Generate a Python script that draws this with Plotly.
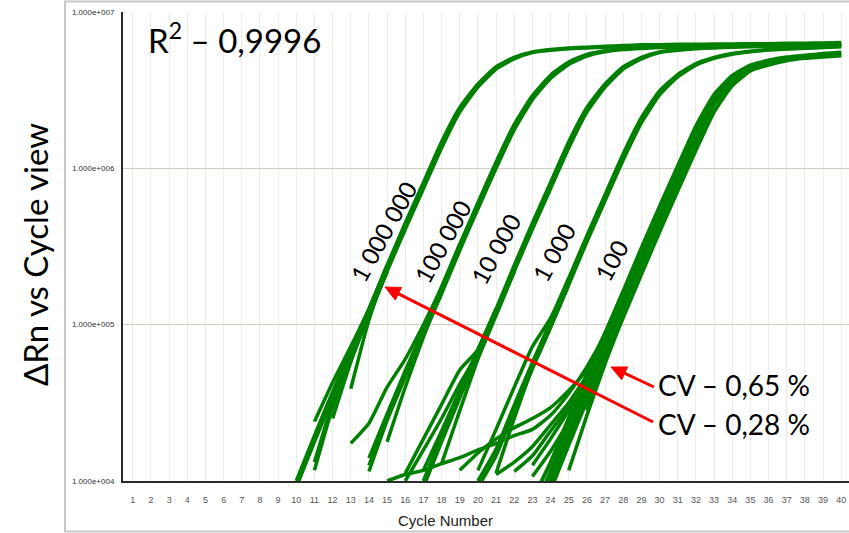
import math
import plotly.graph_objects as go

# ---------------- data (ΔRn per cycle) ----------------
# 1 000 000 copies
g1_start = 10
g1_a = [1.00e4, 1.95e4, 3.72e4, 6.92e4, 1.26e5, 2.40e5, 4.47e5, 8.13e5, 1.48e6, 2.45e6,
        3.47e6, 4.47e6, 5.13e6, 5.56e6, 5.75e6, 5.89e6, 5.96e6, 6.03e6, 6.10e6, 6.17e6,
        6.17e6, 6.21e6, 6.21e6, 6.24e6, 6.24e6, 6.27e6, 6.27e6, 6.31e6, 6.31e6, 6.34e6, 6.38e6]
g1_b = [9.12e3, 1.78e4, 3.39e4, 6.31e4, 1.15e5, 2.19e5, 4.07e5, 7.41e5, 1.35e6, 2.29e6,
        3.31e6, 4.32e6, 5.01e6, 5.50e6, 5.69e6, 5.82e6, 5.89e6, 5.96e6, 6.03e6, 6.06e6,
        6.10e6, 6.13e6, 6.13e6, 6.17e6, 6.17e6, 6.21e6, 6.21e6, 6.24e6, 6.24e6, 6.27e6, 6.27e6]
g1_rep_start = [11, 11, 11, 12, 13]
g1_reps = [[2.40e4, 4.27e4, 7.24e4, 1.26e5, 2.40e5],
           [1.17e4, 2.95e4, 6.03e4, 1.15e5, 2.19e5],
           [1.32e4, 3.16e4, 6.31e4, 1.20e5, 2.19e5],
           [2.51e4, 5.75e4, 1.15e5, 2.19e5],
           [3.89e4, 1.07e5, 2.29e5, 4.07e5]]

# 100 000 copies
g2_start = 14
g2_a = [1.40e4, 2.69e4, 5.07e4, 9.33e4, 1.74e5, 3.27e5, 6.03e5, 1.10e6, 1.91e6, 2.92e6,
        3.94e6, 4.79e6, 5.35e6, 5.65e6, 5.82e6, 5.92e6, 5.98e6, 6.04e6, 6.07e6, 6.10e6,
        6.13e6, 6.17e6, 6.17e6, 6.21e6, 6.21e6, 6.24e6, 6.24e6]
g2_b = [1.26e4, 2.45e4, 4.62e4, 8.51e4, 1.58e5, 2.99e5, 5.50e5, 1.00e6, 1.76e6, 2.75e6,
        3.76e6, 4.62e6, 5.22e6, 5.56e6, 5.75e6, 5.85e6, 5.92e6, 5.96e6, 6.00e6, 6.03e6,
        6.06e6, 6.10e6, 6.10e6, 6.13e6, 6.13e6, 6.17e6, 6.17e6]
g2_rep_start = [13, 15, 14]
g2_reps = [[1.74e4, 2.34e4, 3.98e4, 6.03e4, 1.00e5, 1.74e5, 3.27e5],
           [1.78e4, 3.98e4, 8.32e4, 1.62e5, 2.99e5],
           [1.15e4, 2.45e4, 4.90e4, 9.12e4, 1.58e5]]

# 10 000 copies
g3_start = 17
g3_a = [1.00e4, 1.95e4, 3.72e4, 6.92e4, 1.26e5, 2.40e5, 4.47e5, 8.13e5, 1.48e6, 2.45e6,
        3.47e6, 4.47e6, 5.13e6, 5.56e6, 5.75e6, 5.89e6, 5.96e6, 6.03e6, 6.06e6, 6.10e6,
        6.13e6, 6.13e6, 6.17e6, 6.17e6]
g3_b = [9.12e3, 1.78e4, 3.39e4, 6.31e4, 1.15e5, 2.19e5, 4.07e5, 7.41e5, 1.35e6, 2.29e6,
        3.31e6, 4.32e6, 5.01e6, 5.50e6, 5.69e6, 5.82e6, 5.89e6, 5.96e6, 6.00e6, 6.03e6,
        6.06e6, 6.06e6, 6.10e6, 6.10e6]
g3_rep_start = [16, 16, 17, 18]
g3_reps = [[1.00e4, 1.58e4, 2.51e4, 4.17e4, 6.61e4, 1.20e5, 2.19e5],
           [1.12e4, 1.86e4, 3.09e4, 5.13e4, 6.92e4, 1.26e5],
           [1.17e4, 2.09e4, 3.80e4, 6.92e4, 1.26e5],
           [1.29e4, 2.82e4, 6.03e4, 1.15e5, 2.19e5]]

# 1 000 copies
g4_start = 20
g4_a = [1.00e4, 1.60e4, 3.06e4, 5.74e4, 1.05e5, 1.98e5, 3.71e5, 6.79e5, 1.24e6, 2.11e6,
        3.13e6, 3.98e6, 4.68e6, 5.13e6, 5.43e6, 5.62e6, 5.75e6, 5.82e6, 5.89e6, 5.96e6, 6.03e6]
g4_b = [9.12e3, 1.45e4, 2.79e4, 5.25e4, 9.61e4, 1.80e5, 3.39e5, 6.21e5, 1.13e6, 1.95e6,
        2.95e6, 3.85e6, 4.57e6, 5.05e6, 5.37e6, 5.56e6, 5.71e6, 5.79e6, 5.86e6, 5.93e6, 6.00e6]
g4_rep_start = [20, 21]
g4_reps = [[1.17e4, 2.14e4, 3.98e4, 7.24e4, 1.10e5, 1.98e5],
           [1.12e4, 2.51e4, 5.25e4, 9.61e4, 1.80e5]]

# 100 copies
g5_start = 23
g5_a = [7.59e3, 1.31e4, 2.52e4, 4.76e4, 8.79e4, 1.63e5, 3.08e5, 5.68e5, 1.03e6, 1.85e6,
        2.95e6, 3.91e6, 4.55e6, 4.90e6, 5.13e6, 5.27e6, 5.40e6, 5.50e6]
g5_c = [6.31e3, 1.14e4, 2.22e4, 4.21e4, 7.80e4, 1.43e5, 2.72e5, 5.04e5, 9.16e5, 1.65e6,
        2.75e6, 3.77e6, 4.46e6, 4.84e6, 5.07e6, 5.22e6, 5.33e6, 5.42e6]
g5_m = [5.13e3, 1.00e4, 1.95e4, 3.72e4, 6.92e4, 1.26e5, 2.40e5, 4.47e5, 8.13e5, 1.48e6,
        2.57e6, 3.63e6, 4.37e6, 4.74e6, 5.01e6, 5.16e6, 5.27e6, 5.35e6]
g5_b = [4.47e3, 8.75e3, 1.71e4, 3.27e4, 6.11e4, 1.12e5, 2.11e5, 3.94e5, 7.21e5, 1.31e6,
        2.30e6, 3.39e6, 4.21e6, 4.60e6, 4.90e6, 5.07e6, 5.18e6, 5.27e6]
g5_rep_start = [15, 19, 21, 22, 23, 23, 25, 26]
g5_reps = [[1.00e4, 1.10e4, 1.17e4, 1.29e4, 1.41e4, 1.58e4, 1.74e4, 1.95e4, 2.14e4, 2.63e4,
            3.63e4, 5.37e4, 8.79e4, 1.63e5],
           [1.17e4, 1.51e4, 1.86e4, 2.19e4, 2.51e4, 2.95e4, 3.80e4, 5.13e4, 7.80e4, 1.43e5],
           [1.10e4, 1.32e4, 1.66e4, 2.29e4, 3.16e4, 4.76e4, 8.79e4],
           [1.15e4, 1.45e4, 2.09e4, 2.95e4, 4.21e4, 7.80e4],
           [1.07e4, 1.55e4, 2.40e4, 3.72e4, 6.92e4],
           [1.26e4, 1.86e4, 2.82e4, 4.21e4, 7.80e4],
           [1.17e4, 2.63e4, 5.62e4, 1.12e5],
           [2.82e4, 6.11e4, 1.12e5]]

threshold = 3.03e5
x_ticks = list(range(1, 41))
y_ticks = [1e4, 1e5, 1e6, 1e7]
y_ticktext = ["1.000e+004", "1.000e+005", "1.000e+006", "1.000e+007"]
dilution_labels = ["1 000 000", "100 000", "10 000", "1 000", "100"]
cv_labels = ["CV – 0,65 %", "CV – 0,28 %"]

# ---------------- figure ----------------
GREEN = "#008000"
fig = go.Figure()


def add_curve(start, vals, width=3.5):
    fig.add_trace(go.Scatter(
        x=list(range(start, start + len(vals))), y=vals, mode="lines",
        line=dict(color=GREEN, width=width, shape="spline", smoothing=0.5),
        showlegend=False, hoverinfo="skip"))


groups = [
    (g1_start, [g1_a, g1_b], g1_rep_start, g1_reps, 3.5),
    (g2_start, [g2_a, g2_b], g2_rep_start, g2_reps, 3.5),
    (g3_start, [g3_a, g3_b], g3_rep_start, g3_reps, 3.5),
    (g4_start, [g4_a, g4_b], g4_rep_start, g4_reps, 3.5),
    (g5_start, [g5_a, g5_c, g5_m, g5_b], g5_rep_start, g5_reps, 4),
]
for start, fulls, rstarts, reps, w in groups:
    for f in fulls:
        add_curve(start, f, w)
    for s, r in zip(rstarts, reps):
        add_curve(s, r, 3.5)

W, H = 849, 533
ML, MR, MT, MB = 123, 0, 12, 52
PW, PH = W - ML - MR, H - MT - MB


def px(x):
    return (x - ML) / PW


def py(y):
    return (H - MB - y) / PH


TXT = "Lato"
fig.update_layout(
    width=W, height=H,
    margin=dict(l=ML, r=MR, t=MT, b=MB, autoexpand=False),
    paper_bgcolor="white", plot_bgcolor="white",
    xaxis=dict(range=[0.46, 40.43], tickvals=x_ticks, ticktext=[str(v) for v in x_ticks],
               showgrid=True, gridcolor="#ececec", gridwidth=1, zeroline=False,
               showline=True, linecolor="#2a2a2a", linewidth=2, ticks="",
               ticklabelstandoff=9,
               tickfont=dict(family="Liberation Sans", size=9, color="#555555")),
    yaxis=dict(type="log", range=[4, 7], tickvals=y_ticks, ticktext=y_ticktext,
               showgrid=True, gridcolor="#cdcdc2", gridwidth=1, zeroline=False,
               showline=True, linecolor="#2a2a2a", linewidth=2, ticks="",
               ticklabelstandoff=5,
               tickfont=dict(family="Liberation Sans", size=8, color="#333333")),
)

# threshold line
fig.add_shape(type="line", xref="paper", yref="y", x0=0, x1=1,
              y0=5.4814, y1=5.4814, line=dict(color="#c2dcc2", width=1.5), layer="below")
# outer frame of the screenshot
fig.add_shape(type="rect", xref="paper", yref="paper",
              x0=px(65), x1=px(900), y0=py(531.5), y1=py(1.5),
              line=dict(color="#c8c8c8", width=2))

# red arrows (pixel geometry of the callouts): (tail, tip)
arrows = [((653, 422), (385, 287)), ((654, 387), (611, 367))]
HEAD_LEN, HEAD_HALF = 15, 7
for (tx, ty), (hx, hy) in arrows:
    dx, dy = hx - tx, hy - ty
    n = math.hypot(dx, dy)
    ux, uy = dx / n, dy / n
    bx, by = hx - HEAD_LEN * ux, hy - HEAD_LEN * uy
    pxn, pyn = -uy, ux
    fig.add_shape(type="line", xref="paper", yref="paper",
                  x0=px(tx), y0=py(ty), x1=px(bx + 2 * ux), y1=py(by + 2 * uy),
                  line=dict(color="#ff0000", width=3))
    path = (f"M {px(hx)},{py(hy)} "
            f"L {px(bx + HEAD_HALF * pxn)},{py(by + HEAD_HALF * pyn)} "
            f"L {px(bx - HEAD_HALF * pxn)},{py(by - HEAD_HALF * pyn)} Z")
    fig.add_shape(type="path", xref="paper", yref="paper", path=path,
                  fillcolor="#ff0000", line=dict(color="#ff0000", width=1))

ann = []
# axis titles
ann.append(dict(text="ΔRn vs Cycle view", xref="paper", yref="paper", x=px(35), y=py(255),
                xanchor="center", yanchor="middle", textangle=-90, showarrow=False,
                font=dict(family=TXT, size=33, color="black")))
ann.append(dict(text="Cycle Number", xref="paper", yref="paper", x=px(445), y=py(520),
                xanchor="center", yanchor="middle", showarrow=False,
                font=dict(family="Liberation Sans", size=15, color="#222222")))
# R² text
ann.append(dict(text="R<sup>2</sup> – 0,9996", xref="paper", yref="paper", x=px(146), y=py(38),
                xanchor="left", yanchor="middle", showarrow=False,
                font=dict(family=TXT, size=33, color="black")))
# CV labels
for t, ly in zip(cv_labels, [385, 424]):
    ann.append(dict(text=t, xref="paper", yref="paper", x=px(656), y=py(ly),
                    xanchor="left", yanchor="middle", showarrow=False,
                    font=dict(family=TXT, size=28, color="black")))
# dilution labels (rotated)
label_pos = [(383, 231), (442, 241), (496, 249), (553.5, 252.5), (611, 260)]
for t, (lx, ly) in zip(dilution_labels, label_pos):
    ann.append(dict(text=t, xref="paper", yref="paper", x=px(lx), y=py(ly),
                    xanchor="center", yanchor="middle", textangle=-61, showarrow=False,
                    font=dict(family=TXT, size=24, color="black")))
fig.update_layout(annotations=ann)

fig.write_html("out.html", config={"displayModeBar": False})
